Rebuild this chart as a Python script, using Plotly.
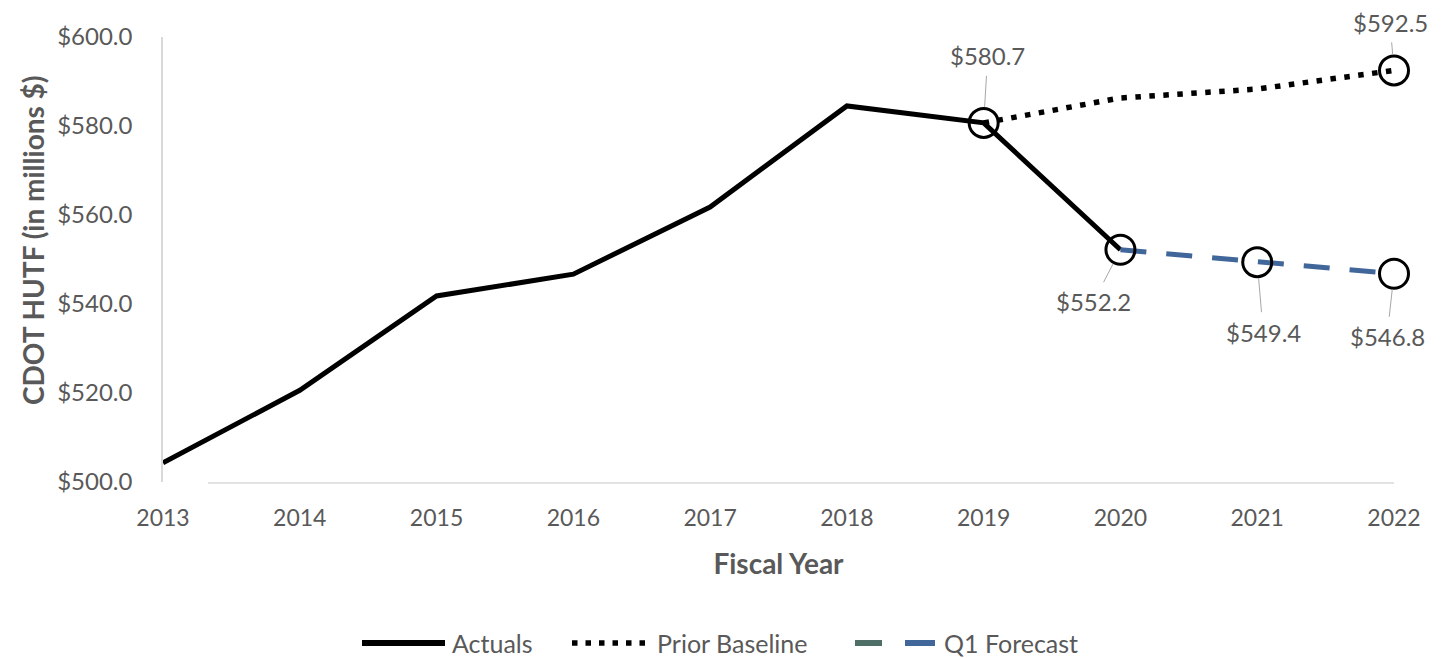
import plotly.graph_objects as go

years = [2013, 2014, 2015, 2016, 2017, 2018, 2019, 2020, 2021, 2022]
actual_years = [2013, 2014, 2015, 2016, 2017, 2018, 2019, 2020]
actuals = [504.3, 520.6, 541.8, 546.7, 561.8, 584.5, 580.7, 552.2]
baseline_years = [2019, 2020, 2021, 2022]
baseline = [580.7, 586.3, 588.3, 592.5]
forecast_years = [2020, 2021, 2022]
forecast = [552.2, 549.4, 546.8]
y_ticks = [500, 520, 540, 560, 580, 600]
y_tick_text = ["$500.0", "$520.0", "$540.0", "$560.0", "$580.0", "$600.0"]

# labelled points: (x, y, text, ax, ay)
labels = [
    (2019, 580.7, "$580.7", 4, -67),
    (2022, 592.5, "$592.5", -4, -48),
    (2020, 552.2, "$552.2", -27, 52),
    (2021, 549.4, "$549.4", 6, 70),
    (2022, 546.8, "$546.8", -7, 63),
]

FONT = "Lato, 'Open Sans', sans-serif"
GRAY = "#595959"
BLUE = "#41679a"
GREEN = "#4f6f66"

# plot area in pixels (for custom legend placement)
L, R, T, B = 163, 1394, 37, 482
W, H = 1453, 659
def px(x): return (x - L) / (R - L)
def py(y): return (B - y) / (B - T)

fig = go.Figure()
fig.add_trace(go.Scatter(x=actual_years, y=actuals, mode="lines", name="Actuals",
                         showlegend=False, line=dict(color="black", width=5)))
fig.add_trace(go.Scatter(x=baseline_years, y=baseline, mode="lines", name="Prior Baseline",
                         showlegend=False, line=dict(color="black", width=5.5, dash="5.5px,8.5px")))
fig.add_trace(go.Scatter(x=forecast_years, y=forecast, mode="lines", name="Q1 Forecast",
                         showlegend=False, line=dict(color=BLUE, width=5, dash="26px,20px")))
fig.add_trace(go.Scatter(x=[l[0] for l in labels], y=[l[1] for l in labels], mode="markers",
                         showlegend=False, hoverinfo="skip", cliponaxis=False,
                         marker=dict(symbol="circle-open", size=29, color="black",
                                     line=dict(width=3, color="black"))))

for x, y, t, ax, ay in labels:
    fig.add_annotation(x=x, y=y, text=t, showarrow=True, arrowhead=0, arrowwidth=1,
                       arrowcolor="#a6a6a6", ax=ax, ay=ay, standoff=16, startstandoff=4,
                       font=dict(family=FONT, size=24, color=GRAY))

# custom legend (line samples + text)
LY = 643
fig.add_shape(type="line", xref="paper", yref="paper", x0=px(362), x1=px(445),
              y0=py(LY), y1=py(LY), line=dict(color="black", width=6))
fig.add_annotation(xref="paper", yref="paper", x=px(450), y=py(LY), text="Actuals",
                   showarrow=False, xanchor="left", yanchor="middle",
                   font=dict(family=FONT, size=25, color=GRAY))
fig.add_shape(type="line", xref="paper", yref="paper", x0=px(572), x1=px(653),
              y0=py(LY), y1=py(LY), line=dict(color="black", width=5.5, dash="5.5px,8px"))
fig.add_annotation(xref="paper", yref="paper", x=px(655), y=py(LY), text="Prior Baseline",
                   showarrow=False, xanchor="left", yanchor="middle",
                   font=dict(family=FONT, size=25, color=GRAY))
fig.add_shape(type="line", xref="paper", yref="paper", x0=px(855), x1=px(882),
              y0=py(LY), y1=py(LY), line=dict(color=GREEN, width=6))
fig.add_shape(type="line", xref="paper", yref="paper", x0=px(905), x1=px(935),
              y0=py(LY), y1=py(LY), line=dict(color=BLUE, width=6))
fig.add_annotation(xref="paper", yref="paper", x=px(942), y=py(LY), text="Q1 Forecast",
                   showarrow=False, xanchor="left", yanchor="middle",
                   font=dict(family=FONT, size=25, color=GRAY))

# y-axis title placed as in the reference (slightly above centre)
fig.add_annotation(xref="paper", yref="paper", x=px(33), y=py(240), text="<b>CDOT HUTF (in millions $)</b>",
                   showarrow=False, textangle=-90, xanchor="center", yanchor="middle",
                   font=dict(family=FONT, size=28, color=GRAY))

# bottom axis line
fig.add_shape(type="line", xref="paper", yref="paper", x0=px(208), x1=1,
              y0=py(483), y1=py(483), line=dict(color="#d9d9d9", width=1.5))

fig.update_layout(
    width=W, height=H,
    margin=dict(l=L, r=W - R, t=T, b=H - B),
    paper_bgcolor="white", plot_bgcolor="white",
    font=dict(family=FONT, size=23, color=GRAY),
    showlegend=False,
    xaxis=dict(range=[2013, 2022], tickmode="array", tickvals=years,
               ticktext=[str(y) for y in years], showgrid=False, zeroline=False,
               showline=False, ticks="", ticklabelstandoff=20,
               tickfont=dict(family=FONT, size=23, color=GRAY),
               title=dict(text="<b>Fiscal Year</b>", font=dict(family=FONT, size=28, color=GRAY),
                          standoff=24)),
    yaxis=dict(range=[500, 600], tickmode="array", tickvals=y_ticks, ticktext=y_tick_text,
               showgrid=False, zeroline=False, showline=True, linecolor="#d9d9d9", linewidth=1.5,
               ticks="", ticklabelstandoff=24,
               tickfont=dict(family=FONT, size=24, color=GRAY)),
)

fig.write_html("out.html")
